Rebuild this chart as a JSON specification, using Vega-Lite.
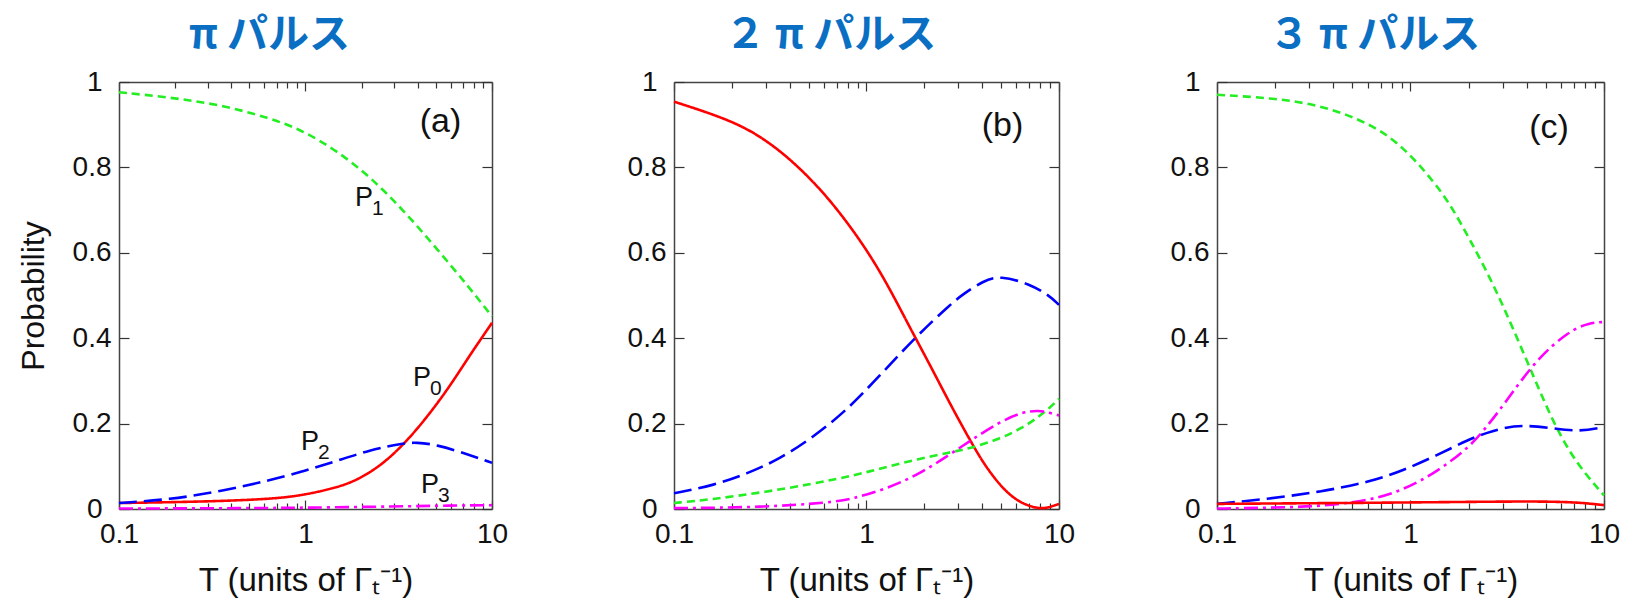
{
  "$schema": "https://vega.github.io/schema/vega-lite/v6.json",
  "padding": {"left": 17, "top": 15, "right": 5, "bottom": 2},
  "datasets": {
    "curves": [
      {"panel": "a", "series": "P1", "T": 0.1, "P": 0.976},
      {"panel": "a", "series": "P1", "T": 0.187, "P": 0.964},
      {"panel": "a", "series": "P1", "T": 0.347, "P": 0.947},
      {"panel": "a", "series": "P1", "T": 0.643, "P": 0.916},
      {"panel": "a", "series": "P1", "T": 0.97, "P": 0.886},
      {"panel": "a", "series": "P1", "T": 1.46, "P": 0.84},
      {"panel": "a", "series": "P1", "T": 2.21, "P": 0.779},
      {"panel": "a", "series": "P1", "T": 3.33, "P": 0.701},
      {"panel": "a", "series": "P1", "T": 5.03, "P": 0.611},
      {"panel": "a", "series": "P1", "T": 7.58, "P": 0.518},
      {"panel": "a", "series": "P1", "T": 10, "P": 0.451},
      {"panel": "a", "series": "P0", "T": 0.1, "P": 0.014},
      {"panel": "a", "series": "P0", "T": 0.28, "P": 0.017},
      {"panel": "a", "series": "P0", "T": 0.643, "P": 0.023},
      {"panel": "a", "series": "P0", "T": 0.97, "P": 0.032},
      {"panel": "a", "series": "P0", "T": 1.46, "P": 0.05},
      {"panel": "a", "series": "P0", "T": 1.8, "P": 0.064},
      {"panel": "a", "series": "P0", "T": 2.21, "P": 0.085},
      {"panel": "a", "series": "P0", "T": 2.71, "P": 0.113},
      {"panel": "a", "series": "P0", "T": 3.33, "P": 0.15},
      {"panel": "a", "series": "P0", "T": 4.09, "P": 0.194},
      {"panel": "a", "series": "P0", "T": 5.03, "P": 0.244},
      {"panel": "a", "series": "P0", "T": 6.18, "P": 0.299},
      {"panel": "a", "series": "P0", "T": 7.58, "P": 0.359},
      {"panel": "a", "series": "P0", "T": 8.69, "P": 0.397},
      {"panel": "a", "series": "P0", "T": 10, "P": 0.436},
      {"panel": "a", "series": "P2", "T": 0.1, "P": 0.014},
      {"panel": "a", "series": "P2", "T": 0.187, "P": 0.022},
      {"panel": "a", "series": "P2", "T": 0.347, "P": 0.041},
      {"panel": "a", "series": "P2", "T": 0.643, "P": 0.067},
      {"panel": "a", "series": "P2", "T": 0.97, "P": 0.088},
      {"panel": "a", "series": "P2", "T": 1.46, "P": 0.112},
      {"panel": "a", "series": "P2", "T": 2.21, "P": 0.138},
      {"panel": "a", "series": "P2", "T": 3.33, "P": 0.154},
      {"panel": "a", "series": "P2", "T": 3.93, "P": 0.156},
      {"panel": "a", "series": "P2", "T": 5.03, "P": 0.151},
      {"panel": "a", "series": "P2", "T": 7.58, "P": 0.127},
      {"panel": "a", "series": "P2", "T": 10, "P": 0.108},
      {"panel": "a", "series": "P3", "T": 0.1, "P": 0.001},
      {"panel": "a", "series": "P3", "T": 0.5, "P": 0.002},
      {"panel": "a", "series": "P3", "T": 1, "P": 0.003},
      {"panel": "a", "series": "P3", "T": 3, "P": 0.006},
      {"panel": "a", "series": "P3", "T": 6, "P": 0.008},
      {"panel": "a", "series": "P3", "T": 10, "P": 0.009},

      {"panel": "b", "series": "P0", "T": 0.1, "P": 0.954},
      {"panel": "b", "series": "P0", "T": 0.194, "P": 0.912},
      {"panel": "b", "series": "P0", "T": 0.29, "P": 0.87},
      {"panel": "b", "series": "P0", "T": 0.431, "P": 0.808},
      {"panel": "b", "series": "P0", "T": 0.644, "P": 0.726},
      {"panel": "b", "series": "P0", "T": 0.96, "P": 0.621},
      {"panel": "b", "series": "P0", "T": 1.26, "P": 0.533},
      {"panel": "b", "series": "P0", "T": 1.585, "P": 0.447},
      {"panel": "b", "series": "P0", "T": 1.79, "P": 0.402},
      {"panel": "b", "series": "P0", "T": 2.25, "P": 0.318},
      {"panel": "b", "series": "P0", "T": 2.74, "P": 0.243},
      {"panel": "b", "series": "P0", "T": 3.46, "P": 0.16},
      {"panel": "b", "series": "P0", "T": 4.04, "P": 0.108},
      {"panel": "b", "series": "P0", "T": 4.91, "P": 0.056},
      {"panel": "b", "series": "P0", "T": 5.97, "P": 0.02},
      {"panel": "b", "series": "P0", "T": 7.26, "P": 0.004},
      {"panel": "b", "series": "P0", "T": 8.17, "P": 0.001},
      {"panel": "b", "series": "P0", "T": 8.9, "P": 0.004},
      {"panel": "b", "series": "P0", "T": 10, "P": 0.012},
      {"panel": "b", "series": "P2", "T": 0.1, "P": 0.037},
      {"panel": "b", "series": "P2", "T": 0.16, "P": 0.055},
      {"panel": "b", "series": "P2", "T": 0.238, "P": 0.082},
      {"panel": "b", "series": "P2", "T": 0.354, "P": 0.117},
      {"panel": "b", "series": "P2", "T": 0.527, "P": 0.168},
      {"panel": "b", "series": "P2", "T": 0.785, "P": 0.23},
      {"panel": "b", "series": "P2", "T": 1.17, "P": 0.312},
      {"panel": "b", "series": "P2", "T": 1.79, "P": 0.402},
      {"panel": "b", "series": "P2", "T": 2.74, "P": 0.48},
      {"panel": "b", "series": "P2", "T": 3.17, "P": 0.503},
      {"panel": "b", "series": "P2", "T": 4.04, "P": 0.534},
      {"panel": "b", "series": "P2", "T": 4.92, "P": 0.547},
      {"panel": "b", "series": "P2", "T": 7.05, "P": 0.527},
      {"panel": "b", "series": "P2", "T": 8.9, "P": 0.5},
      {"panel": "b", "series": "P2", "T": 10, "P": 0.478},
      {"panel": "b", "series": "P1", "T": 0.1, "P": 0.014},
      {"panel": "b", "series": "P1", "T": 0.16, "P": 0.023},
      {"panel": "b", "series": "P1", "T": 0.29, "P": 0.039},
      {"panel": "b", "series": "P1", "T": 0.527, "P": 0.059},
      {"panel": "b", "series": "P1", "T": 0.852, "P": 0.078},
      {"panel": "b", "series": "P1", "T": 1.258, "P": 0.098},
      {"panel": "b", "series": "P1", "T": 1.86, "P": 0.117},
      {"panel": "b", "series": "P1", "T": 2.74, "P": 0.133},
      {"panel": "b", "series": "P1", "T": 3.46, "P": 0.142},
      {"panel": "b", "series": "P1", "T": 4.91, "P": 0.164},
      {"panel": "b", "series": "P1", "T": 6.46, "P": 0.19},
      {"panel": "b", "series": "P1", "T": 7.8, "P": 0.215},
      {"panel": "b", "series": "P1", "T": 8.9, "P": 0.236},
      {"panel": "b", "series": "P1", "T": 10, "P": 0.258},
      {"panel": "b", "series": "P3", "T": 0.1, "P": 0.002},
      {"panel": "b", "series": "P3", "T": 0.29, "P": 0.004},
      {"panel": "b", "series": "P3", "T": 0.644, "P": 0.015},
      {"panel": "b", "series": "P3", "T": 0.852, "P": 0.024},
      {"panel": "b", "series": "P3", "T": 1.258, "P": 0.047},
      {"panel": "b", "series": "P3", "T": 1.86, "P": 0.08},
      {"panel": "b", "series": "P3", "T": 2.74, "P": 0.129},
      {"panel": "b", "series": "P3", "T": 3.46, "P": 0.16},
      {"panel": "b", "series": "P3", "T": 4.91, "P": 0.204},
      {"panel": "b", "series": "P3", "T": 6.46, "P": 0.227},
      {"panel": "b", "series": "P3", "T": 7.8, "P": 0.231},
      {"panel": "b", "series": "P3", "T": 8.9, "P": 0.226},
      {"panel": "b", "series": "P3", "T": 10, "P": 0.219},

      {"panel": "c", "series": "P1", "T": 0.1, "P": 0.97},
      {"panel": "c", "series": "P1", "T": 0.187, "P": 0.963},
      {"panel": "c", "series": "P1", "T": 0.34, "P": 0.947},
      {"panel": "c", "series": "P1", "T": 0.615, "P": 0.904},
      {"panel": "c", "series": "P1", "T": 0.914, "P": 0.85},
      {"panel": "c", "series": "P1", "T": 1.36, "P": 0.76},
      {"panel": "c", "series": "P1", "T": 1.66, "P": 0.702},
      {"panel": "c", "series": "P1", "T": 2.02, "P": 0.632},
      {"panel": "c", "series": "P1", "T": 2.47, "P": 0.558},
      {"panel": "c", "series": "P1", "T": 3.01, "P": 0.476},
      {"panel": "c", "series": "P1", "T": 3.67, "P": 0.386},
      {"panel": "c", "series": "P1", "T": 4.47, "P": 0.295},
      {"panel": "c", "series": "P1", "T": 5.45, "P": 0.205},
      {"panel": "c", "series": "P1", "T": 6.65, "P": 0.133},
      {"panel": "c", "series": "P1", "T": 8.11, "P": 0.079},
      {"panel": "c", "series": "P1", "T": 10, "P": 0.032},
      {"panel": "c", "series": "P3", "T": 0.1, "P": 0.001},
      {"panel": "c", "series": "P3", "T": 0.187, "P": 0.003},
      {"panel": "c", "series": "P3", "T": 0.34, "P": 0.006},
      {"panel": "c", "series": "P3", "T": 0.615, "P": 0.02},
      {"panel": "c", "series": "P3", "T": 0.914, "P": 0.044},
      {"panel": "c", "series": "P3", "T": 1.36, "P": 0.086},
      {"panel": "c", "series": "P3", "T": 2.02, "P": 0.145},
      {"panel": "c", "series": "P3", "T": 2.47, "P": 0.192},
      {"panel": "c", "series": "P3", "T": 3.01, "P": 0.242},
      {"panel": "c", "series": "P3", "T": 4.47, "P": 0.351},
      {"panel": "c", "series": "P3", "T": 6.65, "P": 0.418},
      {"panel": "c", "series": "P3", "T": 8.4, "P": 0.436},
      {"panel": "c", "series": "P3", "T": 10, "P": 0.438},
      {"panel": "c", "series": "P2", "T": 0.1, "P": 0.012},
      {"panel": "c", "series": "P2", "T": 0.187, "P": 0.024},
      {"panel": "c", "series": "P2", "T": 0.34, "P": 0.04},
      {"panel": "c", "series": "P2", "T": 0.615, "P": 0.063},
      {"panel": "c", "series": "P2", "T": 0.914, "P": 0.09},
      {"panel": "c", "series": "P2", "T": 1.36, "P": 0.125},
      {"panel": "c", "series": "P2", "T": 2.02, "P": 0.164},
      {"panel": "c", "series": "P2", "T": 2.47, "P": 0.178},
      {"panel": "c", "series": "P2", "T": 3.01, "P": 0.19},
      {"panel": "c", "series": "P2", "T": 3.81, "P": 0.197},
      {"panel": "c", "series": "P2", "T": 5.45, "P": 0.189},
      {"panel": "c", "series": "P2", "T": 7.48, "P": 0.181},
      {"panel": "c", "series": "P2", "T": 10, "P": 0.192},
      {"panel": "c", "series": "P0", "T": 0.1, "P": 0.012},
      {"panel": "c", "series": "P0", "T": 0.914, "P": 0.015},
      {"panel": "c", "series": "P0", "T": 3.67, "P": 0.018},
      {"panel": "c", "series": "P0", "T": 6, "P": 0.017},
      {"panel": "c", "series": "P0", "T": 8, "P": 0.014},
      {"panel": "c", "series": "P0", "T": 10, "P": 0.009}
    ],
    "tags": [
      {"panel": "a", "T": 5.3, "P": 0.883, "tag": "(a)"},
      {"panel": "b", "T": 5.09, "P": 0.874, "tag": "(b)"},
      {"panel": "c", "T": 5.2, "P": 0.869, "tag": "(c)"}
    ],
    "labels": [
      {"T": 1.843, "P": 0.7096, "main": "P", "sub": "1"},
      {"T": 3.77, "P": 0.288, "main": "P", "sub": "0"},
      {"T": 0.946, "P": 0.138, "main": "P", "sub": "2"},
      {"T": 4.16, "P": 0.0375, "main": "P", "sub": "3"}
    ]
  },
  "hconcat": [
    {
      "width": 373,
      "height": 427,
      "title": {"text": "π パルス", "dx": -36},
      "layer": [
        {
          "data": {"name": "curves"},
          "transform": [{"filter": "datum.panel == 'a'"}],
          "mark": {"type": "line", "strokeWidth": 2.6, "interpolate": "basis"},
          "encoding": {
            "x": {"field": "T", "type": "quantitative", "scale": {"type": "log", "domain": [0.1, 10], "nice": false},
              "axis": {"orient": "bottom", "values": [0.1,0.2,0.3,0.4,0.5,0.6,0.7,0.8,0.9,1,2,3,4,5,6,7,8,9,10],
                "labelExpr": "datum.value == 0.1 ? '0.1' : datum.value == 1 ? '1' : datum.value == 10 ? '10' : ''",
                "tickSize": {"condition": {"test": "datum.value == 1 || datum.value == 0.1 || datum.value == 10", "value": -9}, "value": -6},
                "labelPadding": 20, "labelFontSize": 28, "labelFlush": false, "labelOverlap": false,
                "title": "T (units of Γₜ⁻¹)", "titleFontSize": 33, "titleFontWeight": "normal", "titlePadding": 13}},
            "y": {"field": "P", "type": "quantitative", "scale": {"domain": [0, 1], "nice": false},
              "axis": {"orient": "left", "values": [0,0.2,0.4,0.6,0.8,1], "format": "~g", "tickSize": -10,
                "labelPadding": {"condition": {"test": "datum.value == 0 || datum.value == 1", "value": 27}, "value": 18},
                "labelFontSize": 28, "labelFlush": false, "labelOverlap": false,
                "title": "Probability", "titleFontSize": 32, "titleFontWeight": "normal", "titlePadding": 22}},
            "color": {"field": "series", "type": "nominal", "legend": null,
              "scale": {"domain": ["P0","P1","P2","P3"], "range": ["#ff0000","#22ee22","#0000ff","#ff00ff"]}},
            "strokeDash": {"field": "series", "type": "nominal", "legend": null,
              "scale": {"domain": ["P0","P1","P2","P3"], "range": [[1,0],[8,5],[18,7],[14,5,3,5]]}}
          }
        },
        {
          "data": {"name": "tags"},
          "transform": [{"filter": "datum.panel == 'a'"}],
          "mark": {"type": "text", "fontSize": 34, "align": "center", "baseline": "alphabetic", "color": "#111"},
          "encoding": {
            "x": {"field": "T", "type": "quantitative", "scale": {"type": "log", "domain": [0.1, 10], "nice": false},
              "axis": {"orient": "top", "values": [0.1,0.2,0.3,0.4,0.5,0.6,0.7,0.8,0.9,1,2,3,4,5,6,7,8,9,10], "labels": false, "title": null,
                "tickSize": {"condition": {"test": "datum.value == 1 || datum.value == 0.1 || datum.value == 10", "value": -9}, "value": -6}}},
            "y": {"field": "P", "type": "quantitative", "scale": {"domain": [0, 1], "nice": false},
              "axis": {"orient": "right", "values": [0,0.2,0.4,0.6,0.8,1], "labels": false, "title": null, "tickSize": -10}},
            "text": {"field": "tag"}
          }
        },
        {
          "data": {"name": "labels"},
          "mark": {"type": "text", "fontSize": 27, "align": "left", "baseline": "alphabetic", "color": "#111"},
          "encoding": {
            "x": {"field": "T", "type": "quantitative", "axis": null},
            "y": {"field": "P", "type": "quantitative", "axis": null},
            "text": {"field": "main"}
          }
        },
        {
          "data": {"name": "labels"},
          "mark": {"type": "text", "fontSize": 21, "align": "left", "baseline": "alphabetic", "dx": 17, "dy": 9, "color": "#111"},
          "encoding": {
            "x": {"field": "T", "type": "quantitative", "axis": null},
            "y": {"field": "P", "type": "quantitative", "axis": null},
            "text": {"field": "sub"}
          }
        }
      ],
      "resolve": {"axis": {"x": "independent", "y": "independent"}}
    },
    {
      "hconcat": [
        {
          "width": 385,
          "height": 427,
          "title": {"text": "２ π パルス", "dx": -36},
          "layer": [
            {
              "data": {"name": "curves"},
              "transform": [{"filter": "datum.panel == 'b'"}],
              "mark": {"type": "line", "strokeWidth": 2.6, "interpolate": "basis"},
              "encoding": {
                "x": {"field": "T", "type": "quantitative", "scale": {"type": "log", "domain": [0.1, 10], "nice": false},
                  "axis": {"orient": "bottom", "values": [0.1,0.2,0.3,0.4,0.5,0.6,0.7,0.8,0.9,1,2,3,4,5,6,7,8,9,10],
                    "labelExpr": "datum.value == 0.1 ? '0.1' : datum.value == 1 ? '1' : datum.value == 10 ? '10' : ''",
                    "tickSize": {"condition": {"test": "datum.value == 1 || datum.value == 0.1 || datum.value == 10", "value": -9}, "value": -6},
                    "labelPadding": 20, "labelFontSize": 28, "labelFlush": false, "labelOverlap": false,
                    "title": "T (units of Γₜ⁻¹)", "titleFontSize": 33, "titleFontWeight": "normal", "titlePadding": 13}},
                "y": {"field": "P", "type": "quantitative", "scale": {"domain": [0, 1], "nice": false},
                  "axis": {"orient": "left", "values": [0,0.2,0.4,0.6,0.8,1], "format": "~g", "tickSize": -10,
                    "labelPadding": {"condition": {"test": "datum.value == 0 || datum.value == 1", "value": 27}, "value": 18},
                    "labelFontSize": 28, "labelFlush": false, "labelOverlap": false, "title": null}},
                "color": {"field": "series", "type": "nominal", "legend": null,
                  "scale": {"domain": ["P0","P1","P2","P3"], "range": ["#ff0000","#22ee22","#0000ff","#ff00ff"]}},
                "strokeDash": {"field": "series", "type": "nominal", "legend": null,
                  "scale": {"domain": ["P0","P1","P2","P3"], "range": [[1,0],[8,5],[18,7],[14,5,3,5]]}}
              }
            },
            {
              "data": {"name": "tags"},
              "transform": [{"filter": "datum.panel == 'b'"}],
              "mark": {"type": "text", "fontSize": 34, "align": "center", "baseline": "alphabetic", "color": "#111"},
              "encoding": {
                "x": {"field": "T", "type": "quantitative", "scale": {"type": "log", "domain": [0.1, 10], "nice": false},
                  "axis": {"orient": "top", "values": [0.1,0.2,0.3,0.4,0.5,0.6,0.7,0.8,0.9,1,2,3,4,5,6,7,8,9,10], "labels": false, "title": null,
                    "tickSize": {"condition": {"test": "datum.value == 1 || datum.value == 0.1 || datum.value == 10", "value": -9}, "value": -6}}},
                "y": {"field": "P", "type": "quantitative", "scale": {"domain": [0, 1], "nice": false},
                  "axis": {"orient": "right", "values": [0,0.2,0.4,0.6,0.8,1], "labels": false, "title": null, "tickSize": -10}},
                "text": {"field": "tag"}
              }
            }
          ],
          "resolve": {"axis": {"x": "independent", "y": "independent"}}
        },
        {
          "width": 387,
          "height": 427,
          "title": {"text": "３ π パルス", "dx": -36},
          "layer": [
            {
              "data": {"name": "curves"},
              "transform": [{"filter": "datum.panel == 'c'"}],
              "mark": {"type": "line", "strokeWidth": 2.6, "interpolate": "basis"},
              "encoding": {
                "x": {"field": "T", "type": "quantitative", "scale": {"type": "log", "domain": [0.1, 10], "nice": false},
                  "axis": {"orient": "bottom", "values": [0.1,0.2,0.3,0.4,0.5,0.6,0.7,0.8,0.9,1,2,3,4,5,6,7,8,9,10],
                    "labelExpr": "datum.value == 0.1 ? '0.1' : datum.value == 1 ? '1' : datum.value == 10 ? '10' : ''",
                    "tickSize": {"condition": {"test": "datum.value == 1 || datum.value == 0.1 || datum.value == 10", "value": -9}, "value": -6},
                    "labelPadding": 20, "labelFontSize": 28, "labelFlush": false, "labelOverlap": false,
                    "title": "T (units of Γₜ⁻¹)", "titleFontSize": 33, "titleFontWeight": "normal", "titlePadding": 13}},
                "y": {"field": "P", "type": "quantitative", "scale": {"domain": [0, 1], "nice": false},
                  "axis": {"orient": "left", "values": [0,0.2,0.4,0.6,0.8,1], "format": "~g", "tickSize": -10,
                    "labelPadding": {"condition": {"test": "datum.value == 0 || datum.value == 1", "value": 27}, "value": 18},
                    "labelFontSize": 28, "labelFlush": false, "labelOverlap": false, "title": null}},
                "color": {"field": "series", "type": "nominal", "legend": null,
                  "scale": {"domain": ["P0","P1","P2","P3"], "range": ["#ff0000","#22ee22","#0000ff","#ff00ff"]}},
                "strokeDash": {"field": "series", "type": "nominal", "legend": null,
                  "scale": {"domain": ["P0","P1","P2","P3"], "range": [[1,0],[8,5],[18,7],[14,5,3,5]]}}
              }
            },
            {
              "data": {"name": "tags"},
              "transform": [{"filter": "datum.panel == 'c'"}],
              "mark": {"type": "text", "fontSize": 34, "align": "center", "baseline": "alphabetic", "color": "#111"},
              "encoding": {
                "x": {"field": "T", "type": "quantitative", "scale": {"type": "log", "domain": [0.1, 10], "nice": false},
                  "axis": {"orient": "top", "values": [0.1,0.2,0.3,0.4,0.5,0.6,0.7,0.8,0.9,1,2,3,4,5,6,7,8,9,10], "labels": false, "title": null,
                    "tickSize": {"condition": {"test": "datum.value == 1 || datum.value == 0.1 || datum.value == 10", "value": -9}, "value": -6}}},
                "y": {"field": "P", "type": "quantitative", "scale": {"domain": [0, 1], "nice": false},
                  "axis": {"orient": "right", "values": [0,0.2,0.4,0.6,0.8,1], "labels": false, "title": null, "tickSize": -10}},
                "text": {"field": "tag"}
              }
            }
          ],
          "resolve": {"axis": {"x": "independent", "y": "independent"}}
        }
      ],
      "spacing": 158,
      "bounds": "flush"
    }
  ],
  "spacing": 182,
  "bounds": "flush",
  "config": {
    "font": "Liberation Sans",
    "view": {"stroke": null},
    "axis": {"labelFont": "Liberation Sans", "titleFont": "Liberation Sans", "labelColor": "#111", "titleColor": "#111",
      "domainColor": "#444", "domainWidth": 1.5, "tickColor": "#333", "tickWidth": 1.2, "grid": false},
    "title": {"font": "Noto Sans CJK JP", "fontSize": 41, "fontWeight": "bold", "color": "#0a6fc2", "anchor": "middle", "offset": 11}
  }
}
